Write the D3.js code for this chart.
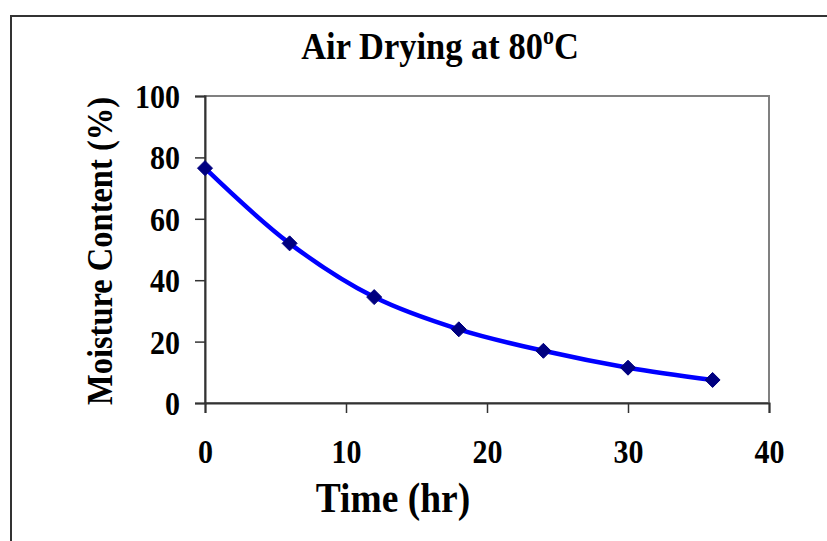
<!DOCTYPE html>
<html><head><meta charset="utf-8">
<script src="https://cdn.jsdelivr.net/npm/d3@7"></script>
<style>body{margin:0;background:#fff}svg{display:block}text{font-family:"Liberation Serif","Times New Roman",serif;font-weight:bold;fill:#000}</style>
</head><body>
<svg id="c" width="827" height="541"></svg>
<script>
const timeHr = [0, 6, 12, 18, 24, 30, 36];
const moisture = [76.5, 52, 34.5, 24, 17, 11.5, 7.5];
const xTicks = [0, 10, 20, 30, 40];
const yTicks = [0, 20, 40, 60, 80, 100];

const svg = d3.select("#c");
const L = 205, R = 769, T = 96, B = 403;
const SY = 1.12; // vertical stretch of the reference's glyphs
const x = d3.scaleLinear().domain([0, 40]).range([L, R]);
const y = d3.scaleLinear().domain([0, 100]).range([B, T]);

// outer frame
svg.append("rect").attr("x", 11).attr("y", 16).attr("width", 830).attr("height", 540)
  .attr("fill", "none").attr("stroke", "#333").attr("stroke-width", 2);

// plot area frame
svg.append("rect").attr("x", L).attr("y", T).attr("width", R - L).attr("height", B - T)
  .attr("fill", "none").attr("stroke", "#808080").attr("stroke-width", 2);

// axes
const yAxis = d3.axisLeft(y).tickValues(yTicks).tickSize(10).tickPadding(15);
const gy = svg.append("g").attr("transform", `translate(${L},0)`).call(yAxis);
const xAxis = d3.axisBottom(x).tickValues(xTicks).tickSize(10);
const gx = svg.append("g").attr("transform", `translate(0,${B})`).call(xAxis);
[gy, gx].forEach(g => {
  g.attr("font-size", null).attr("font-family", null);
  g.select(".domain").attr("stroke", "#333").attr("stroke-width", 2);
  g.selectAll(".tick line").attr("stroke", "#333").attr("stroke-width", 1.5);
  g.selectAll("text").style("font-size", "30px").attr("fill", "#000")
    .attr("transform", `scale(1,${SY})`);
});
gy.selectAll("text").attr("dy", "0.34em");
gx.selectAll("text").attr("dy", 0).attr("y", 60 / SY);

// line
const pts = timeHr.map((t, i) => [t, moisture[i]]);
svg.append("path").datum(pts)
  .attr("d", d3.line().x(d => x(d[0])).y(d => y(d[1])).curve(d3.curveCatmullRom.alpha(0.5)))
  .attr("fill", "none").attr("stroke", "#0000FF").attr("stroke-width", 4.5);

// markers
svg.selectAll(".m").data(pts).enter().append("path")
  .attr("transform", d => `translate(${x(d[0])},${y(d[1])})`)
  .attr("d", "M0,-7.5L7.5,0L0,7.5L-7.5,0Z").attr("fill", "#000080").attr("stroke", "#000080").attr("stroke-width", 1);

// title
const title = svg.append("text").attr("transform", `translate(440,59) scale(1,${SY})`)
  .attr("text-anchor", "middle").style("font-size", "34.5px");
title.append("tspan").text("Air Drying at 80");
title.append("tspan").text("o").style("font-size", "22px").attr("dy", "-13");
title.append("tspan").text("C").attr("dy", "13");

// axis titles
svg.append("text").attr("transform", `translate(393,512) scale(1,${SY})`)
  .attr("text-anchor", "middle").style("font-size", "37.5px").text("Time (hr)");
svg.append("text").attr("transform", `translate(112,251) rotate(-90) scale(1,${SY})`)
  .attr("text-anchor", "middle").style("font-size", "32.5px").text("Moisture Content (%)");
</script>
</body></html>
